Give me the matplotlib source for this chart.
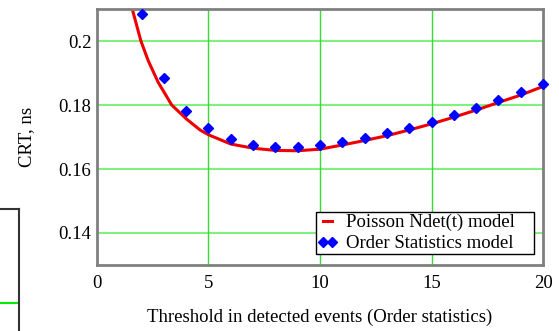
import matplotlib
matplotlib.use("Agg")
import matplotlib.pyplot as plt

# CRT vs. threshold: analytic Poisson model (curve) and order statistics (points)
poisson_x = [1.58, 1.97, 2.3, 2.75, 3.0, 3.35, 4.0, 4.62, 5, 6, 7, 8, 9, 10,
             11, 12, 13, 14, 15, 16, 17, 18, 19, 20]
poisson_crt = [0.210, 0.200, 0.1938, 0.187, 0.1841, 0.180, 0.1757, 0.1722,
               0.1707, 0.1678, 0.1665, 0.1658, 0.1657, 0.1662, 0.1675,
               0.1689, 0.1704, 0.1722, 0.1741, 0.1762, 0.1784, 0.1808,
               0.1831, 0.1858]

order_x = list(range(2, 21))
order_crt = [0.2083, 0.1883, 0.1781, 0.1727, 0.1694, 0.1676, 0.1670, 0.1670,
             0.1674, 0.1684, 0.1696, 0.1711, 0.1728, 0.1748, 0.1769, 0.1791,
             0.1816, 0.1841, 0.1865]

plt.rcParams['font.family'] = ['Liberation Serif', 'DejaVu Serif']
plt.rcParams['font.size'] = 13.5

fig = plt.figure(figsize=(5.59, 3.31), dpi=100)

# edge of the neighbouring plot, cut off at the left border
ax2 = fig.add_axes([-0.3, -0.2, 0.334, 0.5686])
ax2.set_xlim(0, 1)
ax2.set_ylim(0, 1)
ax2.axhline(0.502, color='#00ee00', lw=1.5)
ax2.set_xticks([])
ax2.set_yticks([])
for s in ax2.spines.values():
    s.set_color('#333333')
    s.set_linewidth(1.5)

ax = fig.add_axes([0.1735, 0.1994, 0.7979, 0.7734])
ax.set_xlim(0, 20)
ax.set_ylim(0.13, 0.21)
ax.set_xticks([0, 5, 10, 15, 20])
ax.set_xticklabels(['0', '5', '10', '15', '20'])
ax.set_yticks([0.14, 0.16, 0.18, 0.2])
ax.set_yticklabels(['0.14', '0.16', '0.18', '0.2'])
ax.tick_params(axis='y', length=0, pad=4)
ax.tick_params(axis='x', length=0, pad=7)

for yv in [0.14, 0.16, 0.18, 0.2]:
    ax.axhline(yv, color='#80f080', lw=1.5, zorder=0)
for xv in [5, 10, 15]:
    ax.axvline(xv, color='#33dd33', lw=1.0, zorder=0)

for s in ax.spines.values():
    s.set_color('#808080')
    s.set_linewidth(2)

ax.plot(poisson_x, poisson_crt, color='#ee0000', lw=2.2,
        label='Poisson Ndet(t) model', zorder=2)
ax.plot(order_x, order_crt, linestyle='none', marker='D', ms=4.7,
        color='#0000ff', label='Order Statistics model', zorder=3,
        clip_on=False)

ax.set_xlabel('Threshold in detected events (Order statistics)', labelpad=12)
ax.set_ylabel('CRT, ns', labelpad=17)

# legend box stretched to a fixed width in the lower right corner
leg = ax.legend(loc='lower left', bbox_to_anchor=(0.490, 0.043, 0.489, 0.176),
                mode='expand', borderaxespad=0, numpoints=2,
                handlelength=1.1, handletextpad=0.45, labelspacing=0.2,
                borderpad=0.1, fancybox=False, framealpha=1,
                edgecolor='black')
leg.get_frame().set_linewidth(1.0)

fig.savefig('out.png', dpi=100)
